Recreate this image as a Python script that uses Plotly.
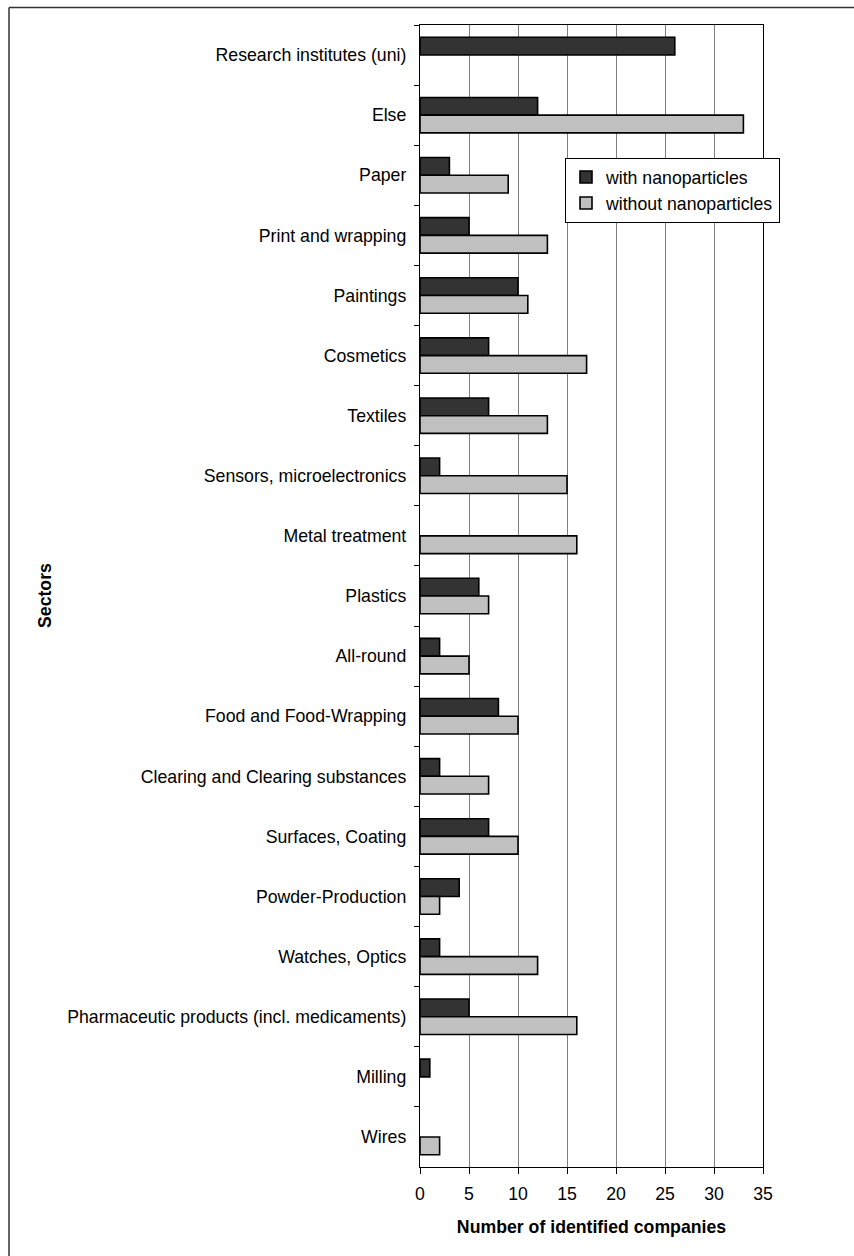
import plotly.graph_objects as go

categories = [
    "Research institutes (uni)", "Else", "Paper", "Print and wrapping", "Paintings",
    "Cosmetics", "Textiles", "Sensors, microelectronics", "Metal treatment", "Plastics",
    "All-round", "Food and Food-Wrapping", "Clearing and Clearing substances",
    "Surfaces, Coating", "Powder-Production", "Watches, Optics",
    "Pharmaceutic products (incl. medicaments)", "Milling", "Wires",
]
with_nano = [26, 12, 3, 5, 10, 7, 7, 2, 0, 6, 2, 8, 2, 7, 4, 2, 5, 1, 0]
without_nano = [0, 33, 9, 13, 11, 17, 13, 15, 16, 7, 5, 10, 7, 10, 2, 12, 16, 0, 2]
x_ticks = [0, 5, 10, 15, 20, 25, 30, 35]
series_names = ["with nanoparticles", "without nanoparticles"]
series_colors = ["#333333", "#c0c0c0"]

W, H = 854, 1256
L, R, T, B = 420, 91, 25, 89
pw, ph = W - L - R, H - T - B

FONT = "Liberation Sans, Arial, sans-serif"
FS = 17.7
BAR_LINE = 1.6


def line_widths(vals):
    return [BAR_LINE if v else 0 for v in vals]


fig = go.Figure()
for name, color, vals in zip(series_names, series_colors, [with_nano, without_nano]):
    fig.add_trace(go.Bar(
        y=categories, x=vals, orientation="h", name=name, legendgroup=name,
        showlegend=False,
        marker=dict(color=color, line=dict(color="#000000", width=line_widths(vals))),
    ))
# legend entries (no data drawn)
for name, color in zip(series_names, series_colors):
    fig.add_trace(go.Scatter(
        y=[None], x=[None], mode="markers", name=name, legendgroup=name,
        showlegend=True,
        marker=dict(symbol="square", size=12, color=color,
                    line=dict(color="#000000", width=BAR_LINE)),
    ))


def px_x(px):
    return (px - L) / pw


def px_y(py):
    return 1 - (py - T) / ph


# outer frame (left and top edges)
fig.add_shape(type="line", xref="paper", yref="paper",
              x0=px_x(9), x1=px_x(W + 10), y0=px_y(7.5), y1=px_y(7.5),
              line=dict(color="#333333", width=1.5))
fig.add_shape(type="line", xref="paper", yref="paper",
              x0=px_x(9), x1=px_x(9), y0=px_y(7.5), y1=px_y(H + 10),
              line=dict(color="#333333", width=1.5))

fig.add_annotation(
    text="<b>Sectors</b>", xref="paper", yref="paper",
    x=px_x(45), y=0.5, textangle=-90, showarrow=False,
    font=dict(family=FONT, size=FS, color="#000000"),
    xanchor="center", yanchor="middle",
)

fig.update_layout(
    width=W, height=H,
    margin=dict(l=L, r=R, t=T, b=B, pad=0),
    paper_bgcolor="#ffffff", plot_bgcolor="#ffffff",
    barmode="group", bargap=0.41, bargroupgap=0,
    font=dict(family=FONT, size=FS, color="#000000"),
    legend=dict(
        x=px_x(565), y=px_y(158), xanchor="left", yanchor="top",
        bordercolor="#000000", borderwidth=1, bgcolor="#ffffff",
        font=dict(family=FONT, size=FS, color="#000000"),
        tracegroupgap=0, itemwidth=30, traceorder="normal",
    ),
    xaxis=dict(
        range=[0, 35], tickvals=x_ticks, ticktext=[str(v) for v in x_ticks],
        showgrid=True, gridcolor="#808080", gridwidth=1,
        zeroline=False, showline=True, linecolor="#000000", linewidth=1.3,
        mirror=True, ticks="outside", ticklen=6, tickcolor="#000000",
        tickfont=dict(family=FONT, size=FS),
        ticklabelstandoff=5,
        title=dict(text="<b>Number of identified companies</b>", standoff=17,
                   font=dict(family=FONT, size=FS)),
    ),
    yaxis=dict(
        autorange="reversed", type="category",
        showgrid=False, zeroline=False, showline=True, linecolor="#000000",
        linewidth=1.3, mirror=True, ticks="outside", ticklen=5,
        tickcolor="#000000", tickson="boundaries",
        tickfont=dict(family=FONT, size=FS),
        ticklabelstandoff=9,
    ),
)

fig.write_html("out.html", config={"displayModeBar": False},
               post_script="document.body.style.margin='0px';")
